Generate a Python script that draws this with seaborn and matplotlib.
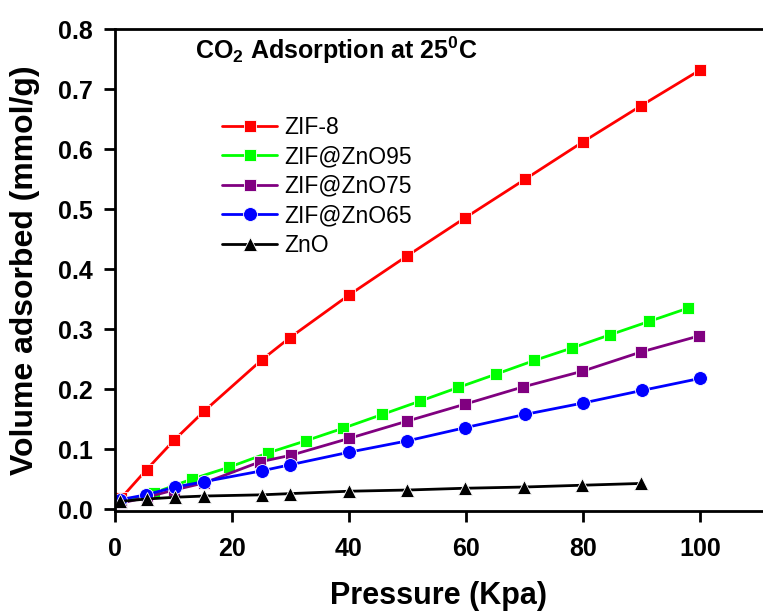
import numpy as np
import pandas as pd
import matplotlib
matplotlib.use("Agg")
import matplotlib.pyplot as plt
import seaborn as sns

# CO2 uptake (mmol/g) against pressure (kPa) at 25 C
zif8_p = [1.0, 5.4, 10.1, 15.3, 25.1, 29.9, 40.0, 49.9, 59.9, 70.1, 80.1, 90.0, 100.0]
zif8_q = [0.018, 0.066, 0.115, 0.164, 0.249, 0.286, 0.357, 0.422, 0.486, 0.550, 0.613, 0.673, 0.732]

zno95_p = [1.0, 6.6, 13.1, 19.5, 26.2, 32.6, 39.0, 45.7, 52.1, 58.7, 65.1, 71.7, 78.2, 84.7, 91.3, 97.9]
zno95_q = [0.010, 0.027, 0.050, 0.070, 0.094, 0.114, 0.135, 0.158, 0.180, 0.203, 0.225, 0.248,
           0.269, 0.291, 0.313, 0.335]

zno75_p = [1.0, 5.4, 10.1, 15.3, 24.8, 30.1, 40.0, 50.0, 59.8, 69.8, 79.9, 89.9, 99.9]
zno75_q = [0.010, 0.020, 0.032, 0.044, 0.079, 0.090, 0.118, 0.147, 0.175, 0.204, 0.230, 0.262, 0.289]

zno65_p = [0.9, 5.3, 10.3, 15.3, 25.1, 29.9, 40.0, 50.0, 59.9, 70.1, 80.0, 90.1, 100.0]
zno65_q = [0.016, 0.024, 0.037, 0.046, 0.064, 0.074, 0.095, 0.114, 0.136, 0.158, 0.177, 0.198, 0.218]

zno_p = [0.9, 5.4, 10.3, 15.3, 25.1, 29.9, 40.0, 50.0, 59.9, 69.9, 79.9, 90.0]
zno_q = [0.013, 0.017, 0.020, 0.022, 0.024, 0.026, 0.030, 0.032, 0.035, 0.037, 0.040, 0.043]

series = [
    ("ZIF-8", zif8_p, zif8_q, "#ff0000", "s", 8.5),
    ("ZIF@ZnO95", zno95_p, zno95_q, "#00ff00", "s", 8.5),
    ("ZIF@ZnO75", zno75_p, zno75_q, "#800080", "s", 9.0),
    ("ZIF@ZnO65", zno65_p, zno65_q, "#0000ff", "o", 10.0),
    ("ZnO", zno_p, zno_q, "#000000", "^", 9.5),
]

sns.set_style("ticks")
plt.rcParams["font.family"] = ["Liberation Sans", "DejaVu Sans"]
plt.rcParams["mathtext.fontset"] = "custom"
plt.rcParams["mathtext.bf"] = "Liberation Sans:bold"
plt.rcParams["mathtext.rm"] = "Liberation Sans"
for key in ("text.color", "axes.labelcolor", "xtick.color", "ytick.color"):
    plt.rcParams[key] = "black"

fig = plt.figure(figsize=(7.63, 6.12), dpi=100)
ax = fig.add_axes([0.1507, 0.165, 0.8493, 0.787])

for name, p, q, color, marker, ms in series:
    df = pd.DataFrame({"Pressure": p, "Uptake": q})
    sns.lineplot(data=df, x="Pressure", y="Uptake", ax=ax, color=color, marker=marker,
                 markersize=ms, markeredgecolor="white", markeredgewidth=0.6,
                 linewidth=2.0, sort=False, label=name)

ax.set_xlim(0, 110.8)
ax.set_ylim(-0.003, 0.8)
ax.set_xticks([0, 20, 40, 60, 80, 100])
ax.set_yticks(np.arange(0, 0.81, 0.1))
ax.yaxis.set_major_formatter(matplotlib.ticker.FormatStrFormatter("%.1f"))

for side in ("left", "bottom", "top"):
    ax.spines[side].set_linewidth(2.0)
    ax.spines[side].set_color("black")
ax.spines["right"].set_visible(False)

ax.tick_params(axis="both", direction="out", length=8, width=2.0, labelsize=18)
ax.tick_params(axis="x", pad=11)
ax.tick_params(axis="y", pad=8)
for lab in ax.get_xticklabels() + ax.get_yticklabels():
    lab.set_fontweight("bold")

ax.set_xlabel("Pressure (Kpa)", fontsize=22, fontweight="bold", labelpad=14)
ax.set_ylabel("Volume adsorbed (mmol/g)", fontsize=23, fontweight="bold", labelpad=13)

fig.text(195 / 763, 1 - 50 / 612, r"CO$_\mathbf{2}$ Adsorption at 25$^\mathbf{0}$C",
         fontsize=18, fontweight="bold", va="center", ha="left")

ax.legend(loc="upper left", bbox_to_anchor=(222 / 763, 1 - 116 / 612),
          bbox_transform=fig.transFigure, frameon=False, fontsize=16.5,
          handlelength=2.4, handletextpad=0.3, labelspacing=0.28,
          borderpad=0, borderaxespad=0)

fig.savefig("out.png", dpi=100)
